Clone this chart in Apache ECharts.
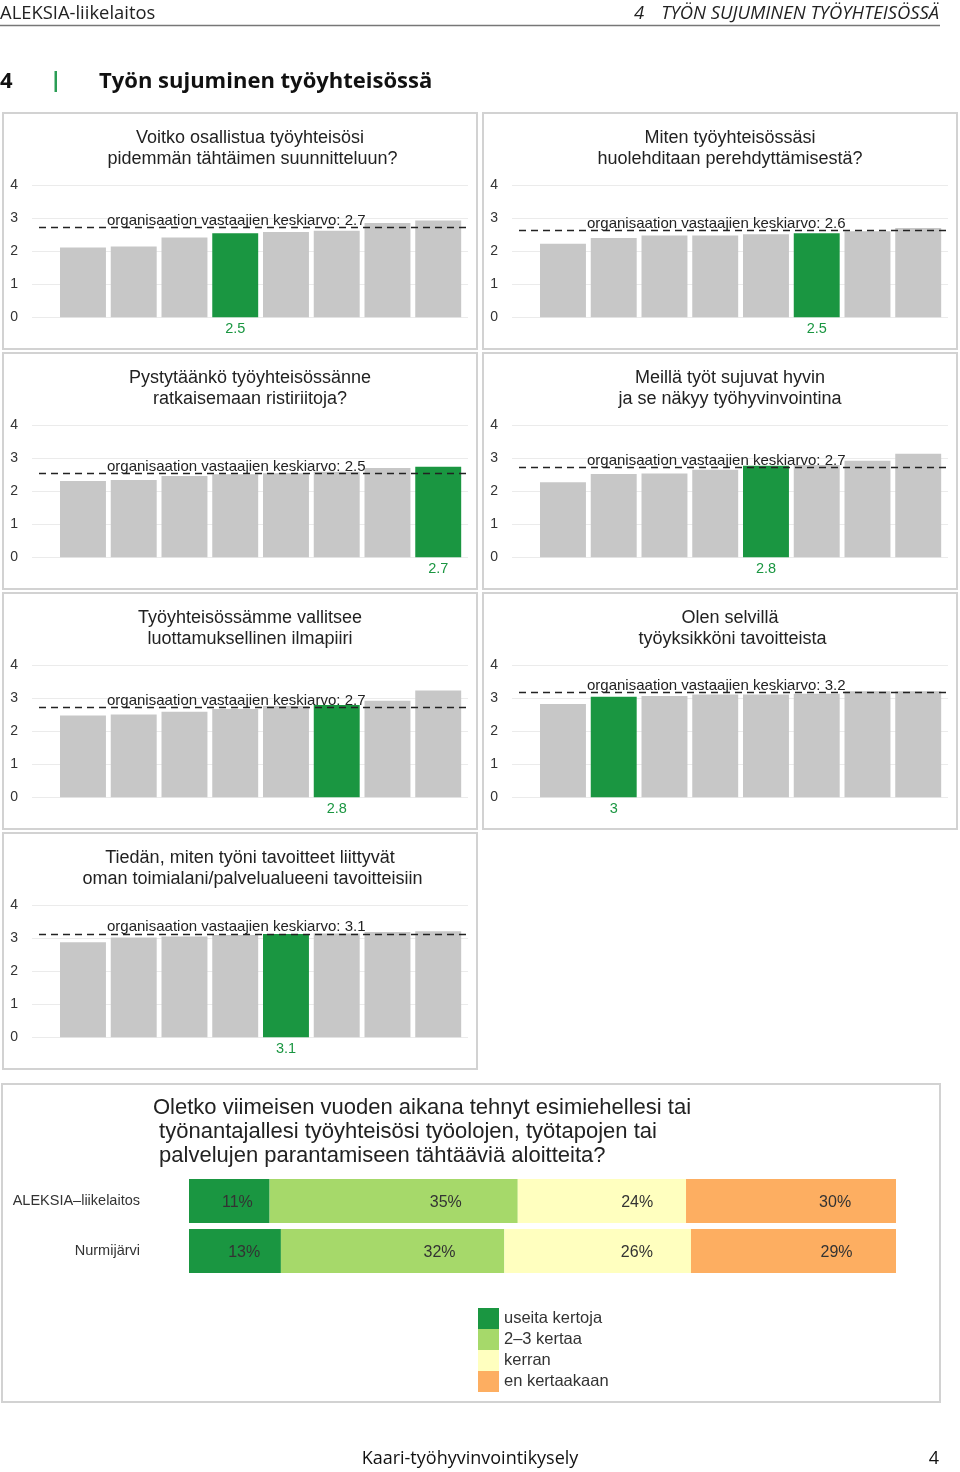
<!DOCTYPE html>
<html><head><meta charset="utf-8">
<script src="https://cdn.jsdelivr.net/npm/echarts@6/dist/echarts.min.js"></script>
<style>html,body{margin:0;padding:0;background:#fff}#c{width:960px;height:1472px}</style>
</head><body><div id="c"></div>
<script>
// ---- data ----
const panelTitles = [
  'Voitko osallistua työyhteisösi\n pidemmän tähtäimen suunnitteluun?',
  'Miten työyhteisössäsi\nhuolehditaan perehdyttämisestä?',
  'Pystytäänkö työyhteisössänne\nratkaisemaan ristiriitoja?',
  'Meillä työt sujuvat hyvin\nja se näkyy työhyvinvointina',
  'Työyhteisössämme vallitsee\nluottamuksellinen ilmapiiri',
  'Olen selvillä\n työyksikköni tavoitteista',
  'Tiedän, miten työni tavoitteet liittyvät\n oman toimialani/palvelualueeni tavoitteisiin'
];
const unitCategories = ['1','2','3','4','5','6','7','8'];
const barValues = [
  [2.11,2.14,2.41,2.54,2.58,2.62,2.85,2.93],
  [2.22,2.40,2.47,2.47,2.51,2.54,2.60,2.70],
  [2.31,2.34,2.46,2.51,2.54,2.59,2.70,2.74],
  [2.27,2.52,2.53,2.65,2.77,2.79,2.92,3.13],
  [2.47,2.50,2.59,2.67,2.76,2.79,2.92,3.23],
  [2.82,3.04,3.06,3.11,3.11,3.13,3.21,3.21],
  [2.87,3.02,3.05,3.09,3.12,3.14,3.18,3.21]
];
const highlightIndex = [3,5,7,4,5,1,4];
const orgMeans = [2.72,2.62,2.53,2.72,2.72,3.17,3.13];
const yTicks = [0,1,2,3,4];

const stackTitle = 'Oletko viimeisen vuoden aikana tehnyt esimiehellesi tai\n työnantajallesi työyhteisösi työolojen, työtapojen tai\n palvelujen parantamiseen tähtääviä aloitteita?';
const stackCategories = ['ALEKSIA–liikelaitos','Nurmijärvi'];
const stackSeriesNames = ['useita kertoja','2–3 kertaa','kerran','en kertaakaan'];
const stackValues = [
  [11.4, 13.0],
  [35.1, 31.6],
  [23.8, 26.4],
  [29.7, 29.0]
];

// ---- styles ----
const GREEN = '#1a9641', GRAY = '#c7c7c7';
const stackColors = ['#1a9641','#a6d96a','#ffffbf','#fdae61'];
const CF = "'Liberation Sans', Arial, sans-serif";
const PF = "'Open Sans', 'Noto Sans', sans-serif";

const grid = [], xAxis = [], yAxis = [], series = [], graphic = [];

panelTitles.forEach((title, i) => {
  const col = i % 2, row = Math.floor(i / 2);
  const x0 = col * 480, y0 = 110 + row * 240;
  graphic.push({type:'rect', shape:{x:x0+3, y:y0+3, width:474, height:236},
    style:{fill:'none', stroke:'#d2d2d2', lineWidth:2}, z:0});
  graphic.push({type:'text', x:x0+250, y:y0+17.5, style:{text:title, fill:'#222', font:"18px "+CF,
    align:'center', verticalAlign:'top', lineHeight:21}});
  // wide grid: y axis ticks, grid lines, mean line
  const gw = grid.length;
  grid.push({left:x0+32, top:y0+75, width:436, height:132.3});
  xAxis.push({gridIndex:gw, type:'value', min:0, max:1, show:false});
  yAxis.push({gridIndex:gw, type:'value', min:yTicks[0], max:yTicks[yTicks.length-1], interval:1,
    axisLine:{show:false}, axisTick:{show:false},
    axisLabel:{margin:14, color:'#333', fontSize:14, fontFamily:CF},
    splitLine:{lineStyle:{color:'#ebebeb', width:1}}});
  const m = orgMeans[i];
  series.push({type:'line', xAxisIndex:gw, yAxisIndex:gw, data:[[0,m]], showSymbol:false,
    lineStyle:{opacity:0}, z:5, silent:true,
    markLine:{symbol:'none', silent:true, animation:false,
      lineStyle:{type:[7,5], color:'#222', width:1.4},
      label:{show:true, position:'insideStartTop', distance:[68,-1], color:'#222', fontSize:15, fontFamily:CF,
        formatter:'organisaation vastaajien keskiarvo: ' + (Math.round(m*10)/10)},
      data:[[{coord:[7/436, m]}, {coord:[435/436, m]}]]}});
  // narrow grid: bars
  const gb = grid.length;
  grid.push({left:x0+57.6, top:y0+75, width:406, height:132.3});
  xAxis.push({gridIndex:gb, type:'category', data:unitCategories, show:false});
  yAxis.push({gridIndex:gb, type:'value', min:0, max:4, show:false});
  const hi = highlightIndex[i];
  series.push({type:'bar', xAxisIndex:gb, yAxisIndex:gb, barCategoryGap:'9.5%', animation:false,
    data: barValues[i].map((v,j) => ({value:v, itemStyle:{color: j===hi ? GREEN : GRAY},
      label:{show: j===hi}})),
    label:{position:'bottom', distance:4, color:GREEN, fontSize:14.5, fontFamily:CF,
      formatter: p => String(Math.round(p.value*10)/10)}});
});

// stacked panel
graphic.push({type:'rect', shape:{x:2, y:1084, width:938, height:318},
  style:{fill:'none', stroke:'#d2d2d2', lineWidth:2}, z:0});
graphic.push({type:'text', x:153, y:1096, style:{text:stackTitle, fill:'#222', font:"22px "+CF,
  align:'left', verticalAlign:'top', lineHeight:24}});
const gs = grid.length;
grid.push({left:189, top:1176, width:707, height:100});
xAxis.push({gridIndex:gs, type:'value', min:0, max:100, show:false});
yAxis.push({gridIndex:gs, type:'category', data:stackCategories, inverse:true,
  axisLine:{show:false}, axisTick:{show:false},
  axisLabel:{margin:49, fontSize:14.5, color:'#333', fontFamily:CF, padding:[3,0,0,0]}});
stackSeriesNames.forEach((n,k) => {
  series.push({type:'bar', name:n, stack:'s', xAxisIndex:gs, yAxisIndex:gs, barCategoryGap:'12%',
    animation:false, data:stackValues[k], itemStyle:{color:stackColors[k]},
    label:{show:true, position:[k===0 ? '60%' : '71%', '54%'], align:'center', verticalAlign:'middle',
      formatter: p => Math.round(p.value) + '%', fontSize:16, color:'#333', fontFamily:CF}});
});

// page header / footer
graphic.push({type:'text', x:0, y:13.5, style:{text:'ALEKSIA-liikelaitos', fill:'#222', font:"18.4px "+PF, verticalAlign:'middle'}});
graphic.push({type:'text', x:634, y:13.5, style:{text:'4', fill:'#222', font:"italic 18.4px "+PF, verticalAlign:'middle'}});
graphic.push({type:'text', x:939, y:13.5, style:{text:'TYÖN SUJUMINEN TYÖYHTEISÖSSÄ', fill:'#222', font:"italic 18.4px "+PF, align:'right', verticalAlign:'middle'}});
graphic.push({type:'line', shape:{x1:0, y1:25.5, x2:940, y2:25.5}, style:{stroke:'#777', lineWidth:1.5}});
graphic.push({type:'text', x:0, y:82, style:{text:'4', fill:'#111', font:"bold 22px "+PF, verticalAlign:'middle'}});
graphic.push({type:'rect', shape:{x:54.5, y:71, width:2.5, height:21}, style:{fill:'#2a9d55'}});
graphic.push({type:'text', x:99, y:82, style:{text:'Työn sujuminen työyhteisössä', fill:'#111', font:"bold 22px "+PF, verticalAlign:'middle'}});
graphic.push({type:'text', x:470, y:1459, style:{text:'Kaari-työhyvinvointikysely', fill:'#111', font:"18px "+PF, align:'center', verticalAlign:'middle'}});
graphic.push({type:'text', x:939, y:1459, style:{text:'4', fill:'#111', font:"18px "+PF, align:'right', verticalAlign:'middle'}});

const chart = echarts.init(document.getElementById('c'), null, {renderer:'canvas'});
chart.setOption({
  animation:false,
  grid, xAxis, yAxis, series, graphic,
  legend:{data:stackSeriesNames, orient:'vertical', left:478, top:1308, padding:0, itemWidth:21, itemHeight:21,
    itemGap:0, icon:'rect', selectedMode:false,
    textStyle:{fontSize:16.5, color:'#333', fontFamily:CF}}
});
</script></body></html>
